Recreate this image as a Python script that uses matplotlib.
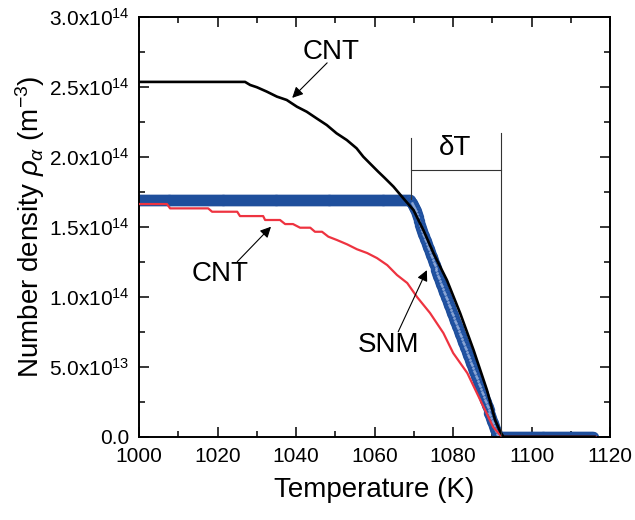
import numpy as np
import matplotlib
matplotlib.use("Agg")
import matplotlib.pyplot as plt
from matplotlib.ticker import MultipleLocator, FuncFormatter

plt.rcParams["font.family"] = ["Liberation Sans", "DejaVu Sans"]
plt.rcParams["mathtext.fontset"] = "custom"
plt.rcParams["mathtext.rm"] = "Liberation Sans"
plt.rcParams["mathtext.it"] = "Liberation Sans:italic"
plt.rcParams["mathtext.default"] = "regular"

# ---- data (density in units of 1e14 m^-3) ----
# CNT (black, upper curve)
cnt_hi_T = [1000.0, 1027.0, 1028.3, 1030.0, 1032.5, 1035.1, 1037.6, 1040.2, 1042.7,
            1045.2, 1047.8, 1050.3, 1052.9, 1055.4, 1057.1, 1058.8, 1060.9, 1062.5,
            1064.8, 1067.3, 1069.9, 1072.4, 1075.0, 1078.4, 1081.8, 1085.2, 1088.6,
            1090.7, 1092.0, 1092.8, 1116.0]
cnt_hi_rho = [2.534, 2.534, 2.512, 2.496, 2.465, 2.429, 2.405, 2.357, 2.321,
              2.274, 2.226, 2.167, 2.119, 2.060, 2.000, 1.952, 1.893, 1.850,
              1.786, 1.703, 1.619, 1.476, 1.310, 1.119, 0.881, 0.619, 0.334,
              0.119, 0.036, 0.0, 0.0]

# CNT (red, lower curve, stepped)
cnt_lo_T = [1000.0, 1007.1, 1007.9, 1017.6, 1018.6, 1025.0, 1025.7, 1031.6, 1032.1,
            1035.9, 1037.2, 1039.2, 1041.0, 1043.6, 1044.8, 1046.6, 1048.2, 1050.4,
            1053.0, 1055.5, 1058.1, 1060.6, 1063.2, 1065.7, 1068.3, 1070.8, 1074.1,
            1077.5, 1080.0, 1083.6, 1086.9, 1090.2, 1092.0, 1092.7, 1116.2]
cnt_lo_rho = [1.662, 1.662, 1.631, 1.631, 1.607, 1.607, 1.576, 1.576, 1.548,
              1.548, 1.519, 1.519, 1.493, 1.493, 1.464, 1.464, 1.429, 1.405,
              1.374, 1.339, 1.312, 1.276, 1.226, 1.155, 1.098, 0.998, 0.884,
              0.741, 0.598, 0.455, 0.262, 0.069, 0.012, 0.0, 0.0]

# SNM (blue circles), 0.25 K steps
snm_T_start = 1000.0
snm_T_step = 0.25
snm_plateau = 1.69           # 1000 .. 1068.75 K
snm_n_plateau = 276
snm_drop = [1.690, 1.680, 1.670, 1.655, 1.640, 1.625, 1.610, 1.590, 1.570, 1.540,
            1.510, 1.490, 1.470, 1.451, 1.432, 1.414, 1.395, 1.376, 1.357, 1.338,
            1.320, 1.301, 1.282, 1.263, 1.244, 1.225, 1.207, 1.188, 1.169, 1.150,
            1.131, 1.113, 1.094, 1.075, 1.056, 1.037, 1.019, 1.000, 0.981, 0.962,
            0.943, 0.924, 0.906, 0.887, 0.868, 0.849, 0.830, 0.812, 0.793, 0.774,
            0.755, 0.736, 0.718, 0.699, 0.680, 0.661, 0.642, 0.624, 0.605, 0.586,
            0.567, 0.548, 0.530, 0.511, 0.492, 0.473, 0.454, 0.436, 0.417, 0.398,
            0.379, 0.360, 0.342, 0.323, 0.304, 0.285, 0.266, 0.248, 0.229, 0.210,
            0.191, 0.172, 0.154, 0.135, 0.116, 0.097, 0.078, 0.059, 0.040, 0.022,
            0.008, 0.000]    # 1069.0 .. 1091.75 K
snm_n_zero = 95              # 1092.0 .. 1115.5 K

snm_rho = np.concatenate([np.full(snm_n_plateau, snm_plateau), snm_drop,
                          np.zeros(snm_n_zero)])
snm_T = snm_T_start + snm_T_step * np.arange(len(snm_rho))
drop = slice(snm_n_plateau + 2, snm_n_plateau + len(snm_drop) - 1)

scale = 1e14

fig = plt.figure(figsize=(6.35, 5.2), dpi=100)
ax = fig.add_axes([0.219, 0.160, 0.742, 0.808])

# blue beads with a pale highlight on the falling part
ax.plot(snm_T, snm_rho * scale, "o", ms=7.4, mfc="#2457a8", mec="#1f4f9c",
        mew=0.8, zorder=2)
ax.plot(snm_T[drop], snm_rho[drop] * scale, "o", ms=2.0, mfc="#b4c6ea",
        mec="none", alpha=0.7, zorder=2.1)
ax.plot(cnt_lo_T, np.array(cnt_lo_rho) * scale, color="#ee3340", lw=1.6, zorder=3)
ax.plot(cnt_hi_T, np.array(cnt_hi_rho) * scale, color="black", lw=1.9, zorder=4)

# delta T bracket
dT_left, dT_right = 1069.3, 1092.2
ax.plot([dT_left, dT_left], [1.70e14, 2.13e14], color="#333333", lw=0.8, zorder=5)
ax.plot([dT_right, dT_right], [0, 2.17e14], color="#333333", lw=0.8, zorder=5)
ax.plot([dT_left, dT_right], [1.905e14, 1.905e14], color="#333333", lw=0.8, zorder=5)
ax.text(1080.5, 2.06e14, "δT", fontsize=20, ha="center", va="center")

arrow = dict(arrowstyle="-|>", color="black", lw=0.8, mutation_scale=16,
             shrinkA=0, shrinkB=0)
ax.annotate("", xy=(1039.0, 2.42e14), xytext=(1047.9, 2.67e14), arrowprops=arrow)
ax.text(1048.9, 2.75e14, "CNT", fontsize=20, ha="center", va="center")
ax.annotate("", xy=(1033.6, 1.50e14), xytext=(1025.0, 1.25e14), arrowprops=arrow)
ax.text(1020.6, 1.16e14, "CNT", fontsize=20, ha="center", va="center")
ax.annotate("", xy=(1073.3, 1.19e14), xytext=(1066.0, 0.75e14), arrowprops=arrow)
ax.text(1063.6, 0.655e14, "SNM", fontsize=20, ha="center", va="center")

ax.set_xlim(1000, 1120)
ax.set_ylim(0, 3.0e14)
ax.xaxis.set_major_locator(MultipleLocator(20))
ax.xaxis.set_minor_locator(MultipleLocator(10))
ax.yaxis.set_major_locator(MultipleLocator(0.5e14))
ax.yaxis.set_minor_locator(MultipleLocator(0.25e14))


def ytick(v, pos):
    if abs(v) < 1e10:
        return "0.0"
    if v < 0:
        return ""
    e = int(np.floor(np.log10(v) + 1e-9))
    return r"$%.1f\mathrm{x}10^{%d}$" % (v / 10 ** e, e)


ax.yaxis.set_major_formatter(FuncFormatter(ytick))
ax.tick_params(which="both", direction="in", top=True, right=True, width=1.1,
               labelsize=15, pad=7)
ax.tick_params(which="major", length=7)
ax.tick_params(which="minor", length=4.3)
for s in ax.spines.values():
    s.set_linewidth(1.4)

ax.set_xlabel("Temperature (K)", fontsize=20, labelpad=8)
ax.set_ylabel(r"Number density $\mathit{\rho}_{\mathit{\alpha}}$ (m$^{-3}$)",
              fontsize=20, labelpad=1)

fig.savefig("out.png", dpi=100)
